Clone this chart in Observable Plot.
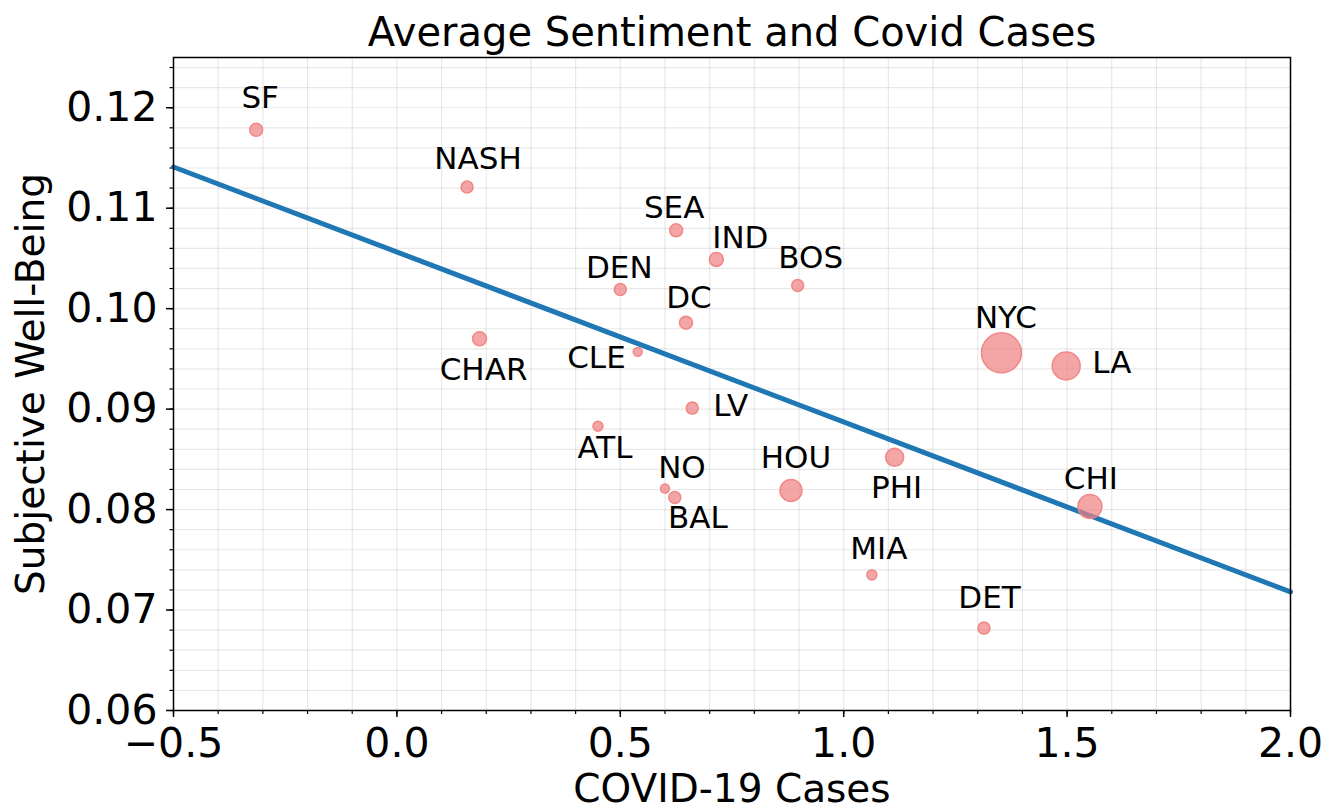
<!DOCTYPE html>
<html>
<head>
<meta charset="utf-8">
<script src="https://cdn.jsdelivr.net/npm/d3@7"></script>
<script src="https://cdn.jsdelivr.net/npm/@observablehq/plot@0.6"></script>
<style>
  html, body { margin: 0; padding: 0; background: #fff; }
  svg { display: block; }
</style>
</head>
<body>
<div id="chart"></div>
<script>
// ---- data ----
const cities    = ["SF","NASH","SEA","IND","DEN","BOS","DC","CHAR","CLE","NYC","LA","LV","ATL","PHI","NO","HOU","BAL","CHI","MIA","DET"];
const covidCases = [-0.315, 0.157, 0.625, 0.715, 0.500, 0.897, 0.647, 0.185, 0.539, 1.353, 1.498, 0.661, 0.450, 1.114, 0.600, 0.882, 0.622, 1.551, 1.063, 1.314];
const wellBeing  = [0.1178, 0.1121, 0.1078, 0.1049, 0.1019, 0.1023, 0.0986, 0.0970, 0.0957, 0.0956, 0.0943, 0.0901, 0.0883, 0.0852, 0.0821, 0.0819, 0.0812, 0.0803, 0.0735, 0.0682];
const markerSize = [42, 36, 42, 49, 36, 36, 42, 49, 20, 400, 196, 36, 25, 81, 20, 121, 36, 144, 25, 36];
// fitted regression line (end points at the x-domain edges)
const fitX = [-0.5, 2.0];
const fitY = [0.1141, 0.0718];
// ticks
const xTicks = [-0.5, 0.0, 0.5, 1.0, 1.5, 2.0];
const yTicks = [0.06, 0.07, 0.08, 0.09, 0.10, 0.11, 0.12];
const titleText = "Average Sentiment and Covid Cases";
const xLabel = "COVID-19 Cases";
const yLabel = "Subjective Well-Being";

// ---- styling: label placement around each point ----
const labelStyle = {
  SF:   {anchor: "middle", dx: 4,   dy: -32},
  NASH: {anchor: "middle", dx: 11,  dy: -28.5},
  SEA:  {anchor: "middle", dx: -2,  dy: -22.5},
  IND:  {anchor: "middle", dx: 24,  dy: -21},
  DEN:  {anchor: "middle", dx: -1,  dy: -21.6},
  BOS:  {anchor: "middle", dx: 13,  dy: -27},
  DC:   {anchor: "middle", dx: 3,   dy: -25},
  CHAR: {anchor: "middle", dx: 4,   dy: 31},
  CLE:  {anchor: "end",    dx: -12, dy: 6},
  NYC:  {anchor: "middle", dx: 4.5, dy: -35},
  LA:   {anchor: "start",  dx: 26,  dy: -2.5},
  LV:   {anchor: "start",  dx: 21,  dy: -2},
  ATL:  {anchor: "middle", dx: 7,   dy: 22},
  PHI:  {anchor: "middle", dx: 2,   dy: 31},
  NO:   {anchor: "middle", dx: 17,  dy: -20},
  HOU:  {anchor: "middle", dx: 5,   dy: -32},
  BAL:  {anchor: "middle", dx: 23,  dy: 21},
  CHI:  {anchor: "middle", dx: 1,   dy: -27},
  MIA:  {anchor: "middle", dx: 7,   dy: -26},
  DET:  {anchor: "middle", dx: 5.5, dy: -30}
};

const rows = cities.map((c, i) => ({city: c, x: covidCases[i], y: wellBeing[i], s: markerSize[i]}));
const fit = fitX.map((x, i) => ({x, y: fitY[i]}));
const xMinor = d3.range(-5, 21).map(k => k / 10);
const yMinor = d3.range(30, 63).map(k => k / 500);

const font = "DejaVu Sans";
const labelMarks = rows.map(r => {
  const st = labelStyle[r.city];
  return Plot.text([r], {x: "x", y: "y", text: "city", textAnchor: st.anchor, dx: st.dx, dy: st.dy,
    lineAnchor: "middle", fontSize: 31, fill: "black"});
});

const chart = Plot.plot({
  width: 1341,
  height: 808,
  marginLeft: 173,
  marginRight: 51,
  marginTop: 57,
  marginBottom: 98,
  style: {fontFamily: font, background: "white", color: "black"},
  x: {domain: [-0.5, 2.0], label: null},
  y: {domain: [0.06, 0.125], label: null},
  r: {type: "sqrt", domain: [0, 400], range: [0, 20]},
  marks: [
    Plot.gridX(xMinor, {stroke: "#000", strokeOpacity: 0.09, strokeWidth: 1.2}),
    Plot.gridY(yMinor, {stroke: "#000", strokeOpacity: 0.09, strokeWidth: 1.2}),
    Plot.axisX(xMinor, {tickSize: 4, tickFormat: () => "", label: null, strokeWidth: 1.2}),
    Plot.axisY(yMinor, {tickSize: 3.5, tickFormat: () => "", label: null, strokeWidth: 1.2}),
    Plot.axisX(xTicks, {tickSize: 7, tickPadding: 10, tickFormat: d3.format(".1f"), fontSize: 41, label: null, strokeWidth: 1.5}),
    Plot.axisY(yTicks, {tickSize: 7, tickPadding: 9, tickFormat: d3.format(".2f"), fontSize: 41, label: null, strokeWidth: 1.5}),
    Plot.line(fit, {x: "x", y: "y", stroke: "#1f77b4", strokeWidth: 5}),
    Plot.dot(rows, {x: "x", y: "y", r: "s", fill: "#f08080", fillOpacity: 0.7, stroke: "#f08080", strokeOpacity: 0.9, strokeWidth: 1.5}),
    ...labelMarks,
    Plot.frame({stroke: "black", strokeWidth: 1.5}),
    Plot.text([titleText], {frameAnchor: "top", text: d => d, textAnchor: "middle", dy: -24, lineAnchor: "middle", fontSize: 40, fill: "black"}),
    Plot.text([xLabel], {frameAnchor: "bottom", text: d => d, textAnchor: "middle", dy: 79, lineAnchor: "middle", fontSize: 39, fill: "black"}),
    Plot.text([yLabel], {frameAnchor: "left", text: d => d, textAnchor: "middle", dx: -142, rotate: -90, lineAnchor: "middle", fontSize: 39, fill: "black"})
  ]
});
document.getElementById("chart").appendChild(chart);
</script>
</body>
</html>
